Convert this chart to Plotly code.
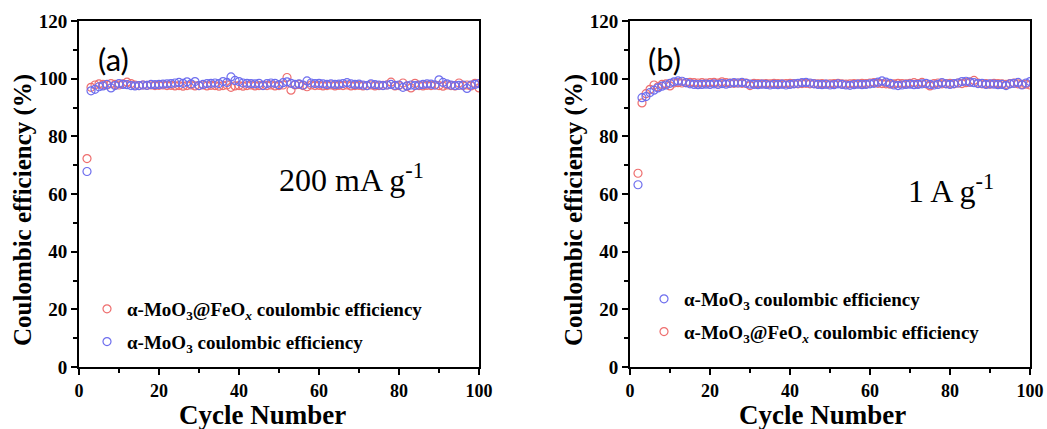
import plotly.graph_objects as go

cycles = list(range(2, 101))

# Panel (a) 200 mA g-1
a_feox = [72.3, 97.0, 97.8, 98.2, 98.0, 97.8, 98.3, 98.0, 97.8, 98.2,
          98.8, 98.3, 97.8, 97.6, 97.8, 97.7, 97.8, 97.6, 97.7, 97.8,
          97.6, 97.7, 97.5, 97.6, 97.4, 97.6, 97.8, 97.5, 97.6, 97.8,
          97.5, 97.7, 97.6, 97.4, 97.6, 97.8, 97.0, 97.5, 97.6, 97.4,
          97.6, 97.8, 97.5, 97.6, 97.7, 97.6, 97.8, 97.5, 97.6, 97.8,
          100.4, 96.0, 97.8, 98.0, 97.6, 97.2, 97.8, 97.6, 97.7, 97.5,
          97.6, 97.8, 97.5, 97.7, 97.6, 97.8, 97.5, 97.6, 97.7, 97.5,
          97.6, 97.8, 97.5, 97.6, 97.7, 97.8, 98.8, 97.5, 97.6, 98.5,
          97.4, 96.8, 98.4, 97.6, 97.5, 97.7, 97.6, 97.8, 97.6, 97.4,
          97.8, 97.6, 97.5, 98.5, 97.6, 97.8, 97.5, 98.4, 96.8]
a_moo3 = [67.8, 95.8, 96.3, 97.2, 97.5, 98.0, 96.8, 97.6, 98.3, 98.0,
          97.9, 97.6, 97.5, 97.6, 97.8, 97.7, 98.0, 97.9, 98.0, 98.1,
          98.2, 98.3, 98.5, 98.7, 98.4, 98.9, 98.2, 99.0, 97.6, 98.0,
          98.3, 98.4, 98.5, 98.3, 99.0, 98.7, 100.6, 99.4, 99.0, 98.5,
          98.4, 98.3, 98.2, 98.4, 97.6, 98.3, 98.5, 98.4, 97.9, 98.6,
          98.9, 98.4, 98.0, 98.2, 97.8, 99.2, 98.5, 98.3, 98.4, 98.2,
          98.0, 98.2, 98.0, 98.1, 98.3, 98.6, 98.2, 98.0, 98.1, 97.8,
          97.6, 98.2, 97.9, 97.8, 97.6, 97.8, 98.0, 97.7, 97.8, 97.0,
          97.5, 97.8, 97.6, 97.8, 98.0, 98.2, 98.1, 97.8, 99.6, 98.7,
          98.2, 97.8, 97.6, 97.7, 97.8, 96.6, 97.8, 98.0, 98.3]

# Panel (b) 1 A g-1
b_moo3 = [63.2, 93.4, 93.8, 95.2, 96.0, 96.8, 97.4, 97.8, 98.4, 98.9,
          99.2, 99.1, 98.6, 98.2, 98.0, 97.9, 98.0, 98.1, 98.0, 98.2,
          98.0, 98.3, 98.1, 98.4, 98.6, 98.5, 98.7, 98.4, 98.1, 98.0,
          97.9, 98.1, 98.0, 97.8, 98.0, 97.9, 98.1, 97.8, 98.0, 98.2,
          98.4, 98.6, 98.7, 98.5, 98.2, 98.0, 97.9, 98.1, 97.8, 97.9,
          98.2, 98.0, 97.8, 97.7, 97.9, 98.1, 97.9, 98.0, 98.2, 98.4,
          98.8, 99.2, 98.8, 98.4, 97.8, 97.6, 97.8, 98.0, 98.1, 97.9,
          98.0, 98.2, 98.4, 98.0, 97.8, 98.0, 98.6, 98.2, 98.0, 98.3,
          98.5, 99.0, 99.1, 98.8, 98.6, 98.3, 98.4, 98.0, 98.2, 98.1,
          97.9, 98.0, 97.6, 98.2, 98.4, 98.7, 97.8, 98.5, 99.0]
b_feox = [67.2, 91.6, 94.8, 96.3, 97.8, 97.2, 98.0, 98.2, 97.5, 98.5,
          98.6, 98.5, 98.6, 98.7, 98.6, 98.5, 98.6, 98.5, 98.6, 98.7,
          98.5, 98.9, 98.6, 98.5, 98.4, 98.5, 98.4, 98.5, 97.6, 98.4,
          98.3, 98.2, 98.3, 98.2, 98.4, 98.3, 98.2, 98.3, 98.4, 98.3,
          98.2, 98.3, 98.4, 98.2, 98.3, 98.2, 98.3, 98.1, 98.2, 98.3,
          98.4, 98.2, 98.1, 98.2, 98.3, 98.2, 98.4, 98.3, 98.5, 98.6,
          98.4, 98.3, 98.2, 98.1, 98.2, 98.4, 98.3, 98.2, 98.4, 98.6,
          98.3, 98.7, 98.2, 97.5, 98.3, 98.5, 98.2, 98.3, 98.4, 98.2,
          98.5, 98.3, 98.6, 98.8, 99.4, 98.5, 98.2, 98.3, 98.1, 98.4,
          98.3, 98.2, 98.0, 98.3, 98.5, 98.2, 98.0, 98.1, 97.8]

label_feox = "α-MoO<sub>3</sub>@FeO<sub><i>x</i></sub> coulombic efficiency"
label_moo3 = "α-MoO<sub>3</sub> coulombic efficiency"

RED = "rgb(238,110,110)"
BLUE = "rgb(110,110,238)"
SERIF = "Liberation Serif, Times New Roman, serif"
W, H = 1047, 429

def px_x(p):
    return p / W

def px_y(p):
    return 1 - p / H

fig = go.Figure()

def add(x, y, name, color, xa, ya, legend, group, rank):
    fig.add_trace(go.Scatter(
        x=x, y=y, mode="markers", name=name, xaxis=xa, yaxis=ya,
        legend=legend, legendgroup=group, legendrank=rank,
        marker=dict(symbol="circle-open", size=8, color=color, line=dict(width=1.2, color=color)),
    ))

add(cycles, a_feox, label_feox, RED, "x", "y", "legend", "a1", 1)
add(cycles, a_moo3, label_moo3, BLUE, "x", "y", "legend", "a2", 2)
add(cycles, b_feox, label_feox, RED, "x2", "y2", "legend2", "b2", 2)
add(cycles, b_moo3, label_moo3, BLUE, "x2", "y2", "legend2", "b1", 1)

axis_common = dict(
    showline=True, linecolor="black", linewidth=2, mirror=True,
    ticks="outside", ticklen=6, tickwidth=2, tickcolor="black",
    showgrid=False, zeroline=False, automargin=False,
    tickfont=dict(family=SERIF, size=18, color="black", weight="bold"),
)
xcommon = dict(axis_common, range=[0, 100], tickvals=[0, 20, 40, 60, 80, 100],
               minor=dict(tickvals=[10, 30, 50, 70, 90], ticks="outside", ticklen=4, tickwidth=2, tickcolor="black"))
ycommon = dict(axis_common, range=[0, 120], tickvals=[0, 20, 40, 60, 80, 100, 120],
               minor=dict(tickvals=[10, 30, 50, 70, 90, 110], ticks="outside", ticklen=4, tickwidth=2, tickcolor="black"))
ycommon["tickfont"] = dict(family=SERIF, size=19, color="black", weight="bold")

ydom = [px_y(367), px_y(21)]
fig.update_layout(
    xaxis=dict(xcommon, domain=[px_x(79), px_x(479)], anchor="y"),
    yaxis=dict(ycommon, domain=ydom, anchor="x"),
    xaxis2=dict(xcommon, domain=[px_x(630), px_x(1030)], anchor="y2"),
    yaxis2=dict(ycommon, domain=ydom, anchor="x2"),
)

legend_common = dict(
    font=dict(family=SERIF, size=19, color="black", weight="bold"),
    bgcolor="rgba(0,0,0,0)", borderwidth=0, tracegroupgap=5,
    xanchor="left", yanchor="top", itemsizing="trace", traceorder="grouped",
)
fig.update_layout(
    legend=dict(legend_common, x=px_x(87), y=px_y(290)),
    legend2=dict(legend_common, x=px_x(644), y=px_y(280)),
)

ann = []
title_font = dict(family=SERIF, size=27, color="black", weight="bold")
ytitle_font = dict(family=SERIF, size=25, color="black", weight="bold")
ann.append(dict(text="Cycle Number", x=px_x(262), y=px_y(415), xref="paper", yref="paper",
                showarrow=False, font=title_font, xanchor="center", yanchor="middle"))
ann.append(dict(text="Cycle Number", x=px_x(822), y=px_y(415), xref="paper", yref="paper",
                showarrow=False, font=title_font, xanchor="center", yanchor="middle"))
ann.append(dict(text="Coulombic efficiency (%)", x=px_x(23), y=px_y(210), xref="paper", yref="paper",
                showarrow=False, font=ytitle_font, textangle=-90, xanchor="center", yanchor="middle"))
ann.append(dict(text="Coulombic efficiency (%)", x=px_x(574), y=px_y(210), xref="paper", yref="paper",
                showarrow=False, font=ytitle_font, textangle=-90, xanchor="center", yanchor="middle"))
panel_font = dict(family="Lato, Open Sans, sans-serif", size=31, color="black")
ann.append(dict(text="(a)", x=px_x(96), y=px_y(59), xref="paper", yref="paper",
                showarrow=False, font=panel_font, xanchor="left", yanchor="middle"))
ann.append(dict(text="(b)", x=px_x(646), y=px_y(59), xref="paper", yref="paper",
                showarrow=False, font=panel_font, xanchor="left", yanchor="middle"))
cond_font = dict(family=SERIF, size=32, color="black")
ann.append(dict(text="200 mA g<sup>-1</sup>", x=px_x(277), y=px_y(178), xref="paper", yref="paper",
                showarrow=False, font=cond_font, xanchor="left", yanchor="middle"))
ann.append(dict(text="1 A g<sup>-1</sup>", x=px_x(906), y=px_y(189), xref="paper", yref="paper",
                showarrow=False, font=cond_font, xanchor="left", yanchor="middle"))

fig.update_layout(
    annotations=ann, width=W, height=H,
    margin=dict(l=0, r=0, t=0, b=0),
    plot_bgcolor="white", paper_bgcolor="white",
    showlegend=True,
)

fig.write_html("out.html", config={"displayModeBar": False},
               post_script="document.body.style.margin='0';document.body.style.overflow='hidden';")
